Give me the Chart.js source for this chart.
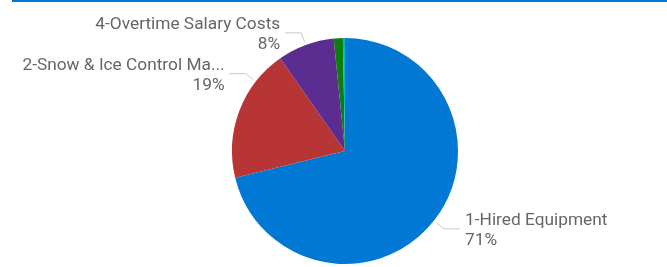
<!DOCTYPE html>
<html>
<head>
<meta charset="utf-8">
<script src="https://cdn.jsdelivr.net/npm/chart.js@4/dist/chart.umd.min.js"></script>
<style>
  html, body { margin: 0; padding: 0; background: #fff; }
  #wrap { position: relative; width: 667px; height: 267px; }
  #topline { position: absolute; left: 12px; right: 0; top: 0; height: 2px; background: #0078d4; }
</style>
</head>
<body>
<div id="wrap">
  <div id="topline"></div>
  <canvas id="myChart" width="667" height="267"></canvas>
</div>
<script>
// slices, clockwise from 12 o'clock
var categories = ["1-Hired Equipment", "2-Snow & Ice Control Ma...", "4-Overtime Salary Costs", "3-Other Costs", "5-Other Costs"];
var shares = [71.2, 19.1, 8.1, 1.3, 0.3];
var sliceColors = ["#0078d4", "#b73535", "#5c2d91", "#107c10", "#00b7c3"];
var shownLabels = [0, 1, 2];

// where along each slice the leader line starts (0..1)
var anchorFrac = { 0: 0.5, 1: 0.75, 2: 0.5 };

var labelPlugin = {
    id: 'pieLabels',
    afterDraw: function (chart) {
        var ctx = chart.ctx;
        var meta = chart.getDatasetMeta(0);
        var total = shares.reduce(function (a, b) { return a + b; }, 0);
        ctx.save();
        ctx.font = '17.3px Roboto';
        ctx.lineWidth = 1;
        shownLabels.forEach(function (i) {
            var arc = meta.data[i];
            var p = arc.getProps(['x', 'y', 'startAngle', 'endAngle', 'outerRadius'], true);
            var a = p.startAngle + anchorFrac[i] * (p.endAngle - p.startAngle);
            var r = p.outerRadius + 3;
            var x0 = p.x + r * Math.cos(a), y0 = p.y + r * Math.sin(a);
            var x1 = x0 + 10 * Math.cos(a), y1 = y0 + 10 * Math.sin(a);
            var right = Math.cos(a) >= 0;
            var x2 = right ? x1 + 16 : x1 - 16;
            ctx.strokeStyle = '#c8c8c8';
            ctx.beginPath();
            ctx.moveTo(x0, y0);
            ctx.lineTo(x1, y1);
            ctx.lineTo(x2, y1);
            ctx.stroke();
            var tx = right ? x2 + 5 : x2 - 5;
            ctx.textAlign = right ? 'left' : 'right';
            ctx.textBaseline = 'alphabetic';
            ctx.fillStyle = '#666666';
            ctx.fillText(categories[i], tx, y1 - 4);
            ctx.fillText(Math.round(shares[i] / total * 100) + '%', tx, y1 + 16);
        });
        ctx.restore();
    }
};

function DrawChart() {
    const ctx = document.getElementById('myChart');
    new Chart(ctx, {
        type: 'pie',
        data: {
            labels: categories,
            datasets: [{
                data: shares,
                backgroundColor: sliceColors,
                borderWidth: 0
            }]
        },
        options: {
            responsive: false,
            animation: false,
            layout: { padding: { left: 232, right: 209, top: 38, bottom: 3 } },
            plugins: {
                legend: { display: false },
                tooltip: { enabled: false }
            }
        },
        plugins: [labelPlugin]
    });
}
DrawChart();
</script>
</body>
</html>
